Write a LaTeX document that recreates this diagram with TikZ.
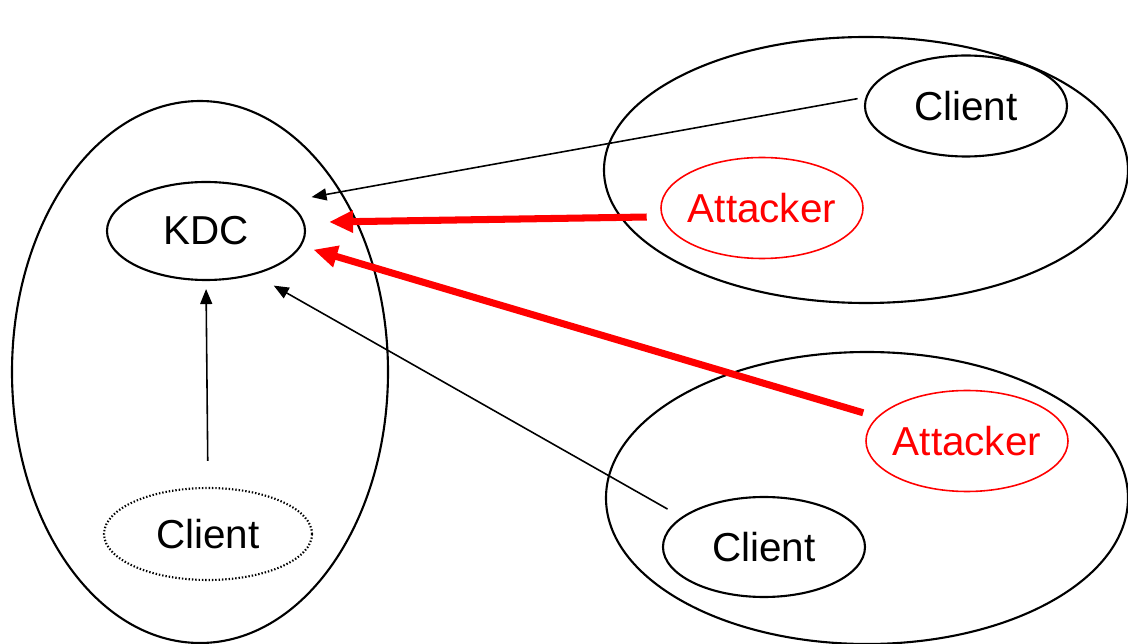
\documentclass[tikz,border=0pt]{standalone}
\usepackage{fontspec}
\setmainfont{Liberation Sans}
\usepackage{tikz}
\usetikzlibrary{shapes.geometric, arrows.meta, positioning}
\definecolor{attred}{RGB}{255, 0, 0}

\begin{document}
\begin{tikzpicture}[
  zone/.style={draw, ellipse, line width=0.6pt, inner sep=0pt},
  host/.style={draw, ellipse, line width=0.6pt, inner sep=0pt, minimum width=2.02cm, minimum height=1.01cm, font=\fontsize{11.5}{13}\selectfont},
  badhost/.style={host, inner xsep=-1.5pt, draw=attred, text=attred, line width=0.45pt},
  req/.style={-{Triangle[length=0.15cm, width=0.12cm]}, line width=0.45pt},
  attack/.style={-{Triangle[length=0.24cm, width=0.21cm]}, line width=2pt, draw=attred}
]
  \useasboundingbox (0, 0) rectangle (11.28, -6.44);
  % realms
  \node[zone, minimum width=3.76cm, minimum height=5.42cm] (realm) at (2.00, -3.72) {};
  \node[zone, minimum width=5.24cm, minimum height=2.66cm] (netA) at (8.66, -1.70) {};
  \node[zone, minimum width=5.22cm, minimum height=2.92cm] (netB) at (8.67, -4.98) {};
  % hosts
  \node[host, minimum width=1.98cm, minimum height=0.98cm] (kdc) at (2.06, -2.31) {KDC};
  \node[host, dash pattern=on 0.4pt off 0.55pt, minimum width=2.08cm, minimum height=0.92cm] (local) at (2.08, -5.34) {Client};
  \node[host] (clientA) at (9.66, -1.06) {Client};
  \node[badhost] (attA) at (7.62, -2.08) {Attacker};
  \node[badhost] (attB) at (9.67, -4.41) {Attacker};
  \node[host, minimum height=1.00cm] (clientB) at (7.64, -5.47) {Client};
  % requests
  \draw[req, shorten <=0.08cm, shorten >=0.25cm] (clientA.175) -- (kdc.20);
  \draw[req, shorten <=0.16cm, shorten >=0.22cm] (clientB.160) -- (kdc.318);
  \draw[req, shorten <=0.26cm, shorten >=0.08cm] (local.north) -- (kdc.south);
  \draw[attack, shorten <=0.15cm, shorten >=0.245cm] (attA.185) -- (kdc.5);
  \draw[attack, shorten <=0.145cm, shorten >=0.125cm] (attB.165) -- (kdc.351);
\end{tikzpicture}
\end{document}
